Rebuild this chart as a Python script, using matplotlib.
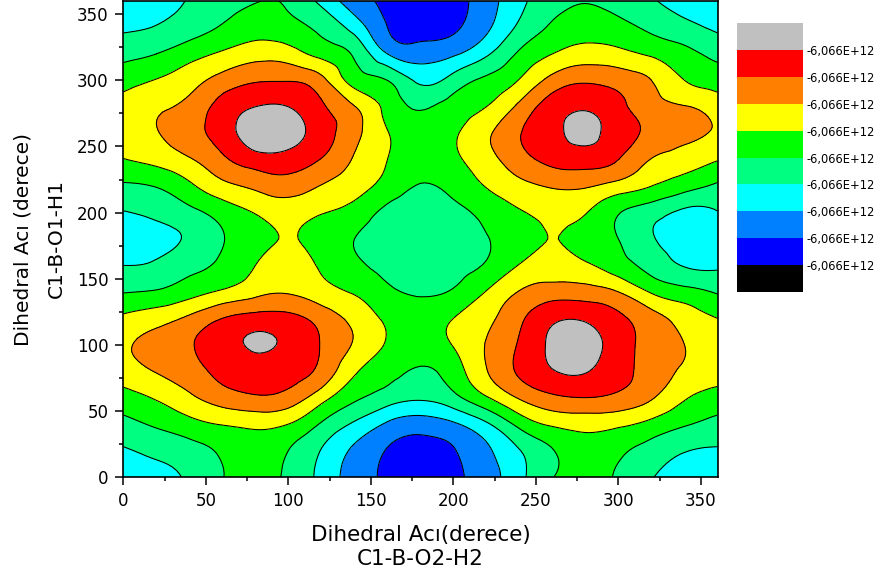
import numpy as np
import matplotlib
matplotlib.use("Agg")
import matplotlib.pyplot as plt
import matplotlib.tri as mtri
from matplotlib.ticker import MultipleLocator

# scan angles (degrees)
phi2 = list(range(0, 361, 20))   # C1-B-O2-H2, x axis
phi1 = list(range(0, 361, 20))   # C1-B-O1-H1, y axis

# relative energy (level units), one row per phi1 value, columns follow phi2
e_000 = [3.5, 3.75, 4.15, 4.97, 5.15, 4.85, 3.7, 2.55, 1.77, 1.3, 1.77, 2.55, 3.7, 4.97, 5.15, 4.9, 4.05, 3.7, 3.5]
e_020 = [3.9, 4.22, 4.6, 5.15, 5.5, 5.0, 3.96, 2.81, 1.95, 1.72, 1.95, 2.81, 3.96, 4.95, 5.6, 5.2, 4.6, 4.05, 3.9]
e_040 = [4.7, 5.15, 5.65, 6.05, 6.25, 6.0, 4.9, 3.85, 2.85, 2.45, 2.85, 3.85, 5.3, 6.15, 6.35, 6.2, 5.7, 5.1, 4.7]
e_060 = [5.6, 6.1, 6.8, 7.5, 7.85, 7.6, 6.4, 5.2, 4.5, 4.15, 4.7, 5.9, 7.1, 7.8, 8.0, 7.75, 7.1, 6.1, 5.6]
e_080 = [6.55, 7.05, 7.6, 8.3, 8.65, 8.45, 7.7, 6.15, 5.35, 4.9, 5.5, 6.95, 8.15, 8.95, 9.05, 8.4, 7.55, 6.85, 6.45]
e_100 = [6.9, 7.3, 7.9, 8.6, 9.1, 8.8, 7.95, 6.9, 5.9, 5.5, 6.05, 7.05, 8.1, 9.2, 9.4, 8.5, 7.6, 7.0, 6.6]
e_120 = [6.2, 6.6, 7.2, 8.0, 8.4, 8.3, 7.6, 6.7, 5.8, 5.45, 6.0, 6.75, 7.8, 8.8, 8.85, 8.2, 7.4, 6.6, 6.0]
e_140 = [4.95, 5.1, 5.6, 6.15, 6.7, 6.9, 6.4, 5.9, 5.2, 4.9, 5.1, 6.05, 7.05, 7.5, 7.45, 7.0, 5.9, 5.35, 4.9]
e_160 = [4.0, 4.15, 4.7, 5.2, 6.0, 6.25, 5.9, 5.2, 4.75, 4.55, 4.7, 5.1, 6.05, 6.4, 6.15, 5.45, 4.6, 3.95, 3.85]
e_180 = [3.6, 3.75, 4.15, 4.95, 5.6, 6.05, 5.6, 5.0, 4.6, 4.45, 4.5, 4.95, 5.5, 6.02, 5.6, 5.0, 4.1, 3.6, 3.35]
e_200 = [3.95, 4.2, 4.7, 5.4, 6.05, 6.4, 6.05, 5.6, 4.75, 4.6, 4.75, 5.3, 5.9, 6.3, 6.05, 5.05, 4.4, 3.8, 3.95]
e_220 = [4.85, 5.05, 5.8, 6.7, 7.2, 7.5, 6.95, 6.4, 5.6, 4.95, 5.3, 6.05, 6.7, 7.1, 7.1, 6.6, 6.0, 5.4, 4.85]
e_240 = [5.95, 6.3, 6.9, 7.8, 8.55, 8.6, 7.95, 6.9, 6.0, 5.4, 5.8, 6.6, 7.6, 8.3, 8.5, 8.0, 6.95, 6.5, 6.05]
e_260 = [6.7, 6.95, 7.6, 8.5, 9.5, 9.4, 8.5, 7.3, 6.05, 5.4, 5.85, 6.8, 7.95, 8.75, 9.2, 8.5, 7.8, 7.3, 6.85]
e_280 = [6.45, 6.85, 7.3, 8.4, 9.0, 9.0, 8.15, 7.05, 5.7, 4.9, 5.4, 6.0, 7.25, 8.5, 8.9, 8.3, 7.4, 7.05, 6.5]
e_300 = [5.6, 6.05, 6.6, 7.4, 7.9, 7.95, 7.3, 5.6, 5.0, 3.8, 4.4, 5.2, 6.05, 7.35, 7.85, 7.6, 7.0, 6.0, 5.6]
e_320 = [4.7, 5.0, 5.6, 6.15, 6.6, 6.45, 5.7, 4.85, 3.0, 2.5, 2.85, 3.85, 5.15, 6.0, 6.45, 6.3, 5.85, 5.3, 4.7]
e_340 = [3.85, 4.05, 4.5, 5.1, 5.55, 5.35, 4.75, 3.6, 2.0, 1.6, 1.85, 2.8, 4.2, 5.15, 5.55, 5.3, 4.8, 4.3, 3.85]
e_360 = [3.5, 3.75, 4.05, 4.6, 4.95, 4.85, 3.75, 2.47, 1.75, 1.3, 1.65, 2.53, 3.75, 4.6, 4.95, 4.6, 4.1, 3.6, 3.5]

energy = np.array([e_000, e_020, e_040, e_060, e_080, e_100, e_120, e_140, e_160,
                   e_180, e_200, e_220, e_240, e_260, e_280, e_300, e_320, e_340, e_360])

levels = np.arange(0, 11)
level_colors = ["#000000", "#0000ff", "#0080ff", "#00ffff", "#00ff80",
                "#00ff00", "#ffff00", "#ff8000", "#ff0000", "#c0c0c0"]
cbar_labels = ["-6,066E+12"] * 9

fig = plt.figure(figsize=(8.82, 5.80), dpi=100)
ax = fig.add_axes([123.3 / 882, 103 / 580, 594.2 / 882, 476 / 580])

# smooth the scan grid with matplotlib's triangulation refiner before contouring
X, Y = np.meshgrid(phi2, phi1)
tri = mtri.Triangulation(X.ravel(), Y.ravel())
refiner = mtri.UniformTriRefiner(tri)
tri_f, z_f = refiner.refine_field(energy.ravel(), subdiv=3)

cs = ax.tricontourf(tri_f, z_f, levels=levels, colors=level_colors)
ax.tricontour(tri_f, z_f, levels=levels[1:-1], colors="k", linewidths=0.75)

ax.set_xlim(0, 360)
ax.set_ylim(0, 360)
ax.xaxis.set_major_locator(MultipleLocator(50))
ax.xaxis.set_minor_locator(MultipleLocator(25))
ax.yaxis.set_major_locator(MultipleLocator(50))
ax.yaxis.set_minor_locator(MultipleLocator(25))
ax.tick_params(which="major", direction="out", length=5.5, width=1.1, labelsize=12, pad=5)
ax.tick_params(which="minor", direction="out", length=3, width=1.1)
for sp in ax.spines.values():
    sp.set_linewidth(1.2)

# axis titles, two lines each
fig.text(420.4 / 882, (580 - 541) / 580, "Dihedral Acı(derece)", fontsize=15.5,
         ha="center", va="baseline")
fig.text(420.4 / 882, (580 - 565) / 580, "C1-B-O2-H2", fontsize=15.5,
         ha="center", va="baseline")
fig.text(29 / 882, (580 - 239) / 580, "Dihedral Acı (derece)", fontsize=14.5,
         rotation=90, rotation_mode="anchor", ha="center", va="baseline")
fig.text(62 / 882, (580 - 239) / 580, "C1-B-O1-H1", fontsize=14.5,
         rotation=90, rotation_mode="anchor", ha="center", va="baseline")

# level legend
cax = fig.add_axes([736.7 / 882, (580 - 292) / 580, 66 / 882, 269 / 580])
cbar = fig.colorbar(cs, cax=cax, ticks=levels[1:-1])
cbar.outline.set_visible(False)
cbar.ax.set_yticklabels(cbar_labels)
cbar.ax.tick_params(length=0, labelsize=8.3, pad=3)

fig.savefig("out.png", dpi=100)
